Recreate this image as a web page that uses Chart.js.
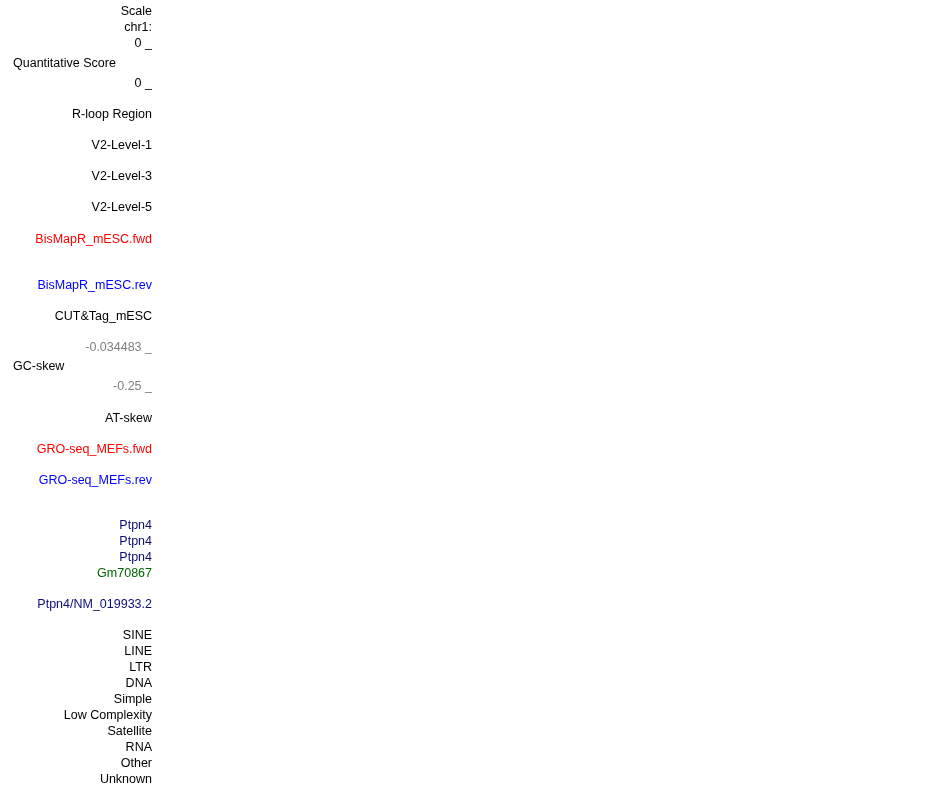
<!DOCTYPE html>
<html>
<head>
<meta charset="utf-8">
<script src="https://cdn.jsdelivr.net/npm/chart.js@4"></script>
<style>
  html, body { margin: 0; padding: 0; background: #fff; }
  #wrap { width: 950px; height: 787px; }
</style>
</head>
<body>
<div id="wrap"><canvas id="trackChart" width="950" height="787"></canvas></div>
<script>
/* ── Track label data ─────────────────────────── */
// right-aligned side labels, their row position along the track axis, and colour key
const trackLabels = [
  'Scale', 'chr1:', '0 _', '0 _', 'R-loop Region', 'V2-Level-1', 'V2-Level-3', 'V2-Level-5',
  'BisMapR_mESC.fwd', 'BisMapR_mESC.rev', 'CUT&Tag_mESC', '-0.034483 _', '-0.25 _', 'AT-skew',
  'GRO-seq_MEFs.fwd', 'GRO-seq_MEFs.rev', 'Ptpn4', 'Ptpn4', 'Ptpn4', 'Gm70867', 'Ptpn4/NM_019933.2',
  'SINE', 'LINE', 'LTR', 'DNA', 'Simple', 'Low Complexity', 'Satellite', 'RNA', 'Other', 'Unknown'
];
const trackRows = [
  12, 28, 44, 84, 115, 146, 177, 208,
  240, 286, 317, 348, 387, 419,
  450, 481, 526, 542, 558, 574, 605,
  636, 652, 668, 684, 700, 716, 732, 748, 764, 780
];
const trackKinds = [
  'k', 'k', 'k', 'k', 'k', 'k', 'k', 'k',
  'fwd', 'rev', 'k', 'scale', 'scale', 'k',
  'fwd', 'rev', 'gene', 'gene', 'gene', 'lnc', 'gene',
  'k', 'k', 'k', 'k', 'k', 'k', 'k', 'k', 'k', 'k'
];
// left-aligned group titles
const groupLabels = ['Quantitative Score', 'GC-skew'];
const groupRows = [64, 367];
const rowMax = 787;

/* ── Styles ───────────────────────────────────── */
const kindColors = {
  k: '#000000', fwd: '#ff0000', rev: '#0000ff', scale: '#808080',
  gene: '#0c0c78', lnc: '#006400'
};
const FONT = { family: '"Liberation Sans", Arial, Helvetica, sans-serif', size: 12.5 };

// draws the left-aligned group titles on the y scale
const groupTitles = {
  id: 'groupTitles',
  afterDraw(chart) {
    const y = chart.scales.y;
    const ctx = chart.ctx;
    ctx.save();
    ctx.font = `${FONT.size}px ${FONT.family}`;
    ctx.fillStyle = '#000000';
    ctx.textAlign = 'left';
    ctx.textBaseline = 'middle';
    groupLabels.forEach((t, i) => ctx.fillText(t, y.left + 13, y.getPixelForValue(groupRows[i])));
    ctx.restore();
  }
};

new Chart(document.getElementById('trackChart'), {
  type: 'scatter',
  data: { datasets: [{ data: [] }] },
  options: {
    responsive: false,
    animation: false,
    layout: { padding: 0 },
    plugins: { legend: { display: false }, tooltip: { enabled: false } },
    scales: {
      x: { display: false, min: 0, max: 1 },
      y: {
        position: 'left',
        reverse: true,
        min: 0,
        max: rowMax,
        border: { display: false },
        grid: { display: false, drawTicks: false, tickLength: 0 },
        afterBuildTicks: axis => { axis.ticks = trackRows.map(v => ({ value: v })); },
        afterFit: axis => { axis.width = 152; axis.paddingTop = 0; axis.paddingBottom = 0; },
        ticks: {
          autoSkip: false,
          padding: 0,
          font: FONT,
          color: c => kindColors[trackKinds[c.index]],
          callback: (v, i) => trackLabels[i]
        }
      }
    }
  },
  plugins: [groupTitles]
});
</script>
</body>
</html>
